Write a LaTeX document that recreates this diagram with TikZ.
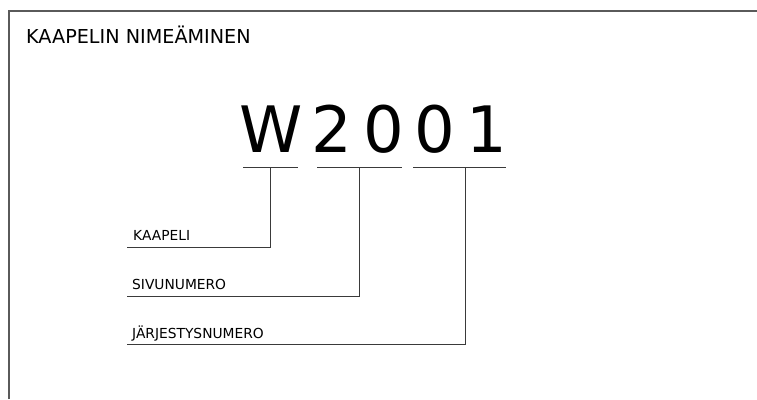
\documentclass[tikz,border=0pt]{standalone}
\usepackage{fontspec}
\setmainfont{DejaVu Sans}
\definecolor{linegray}{HTML}{3A3A3A}
\definecolor{framegray}{HTML}{5A5A5A}
\begin{document}
\begin{tikzpicture}[x=1pt,y=-1pt,
  title/.style={anchor=base west,inner sep=0pt,font=\fontsize{19.2}{23}\selectfont},
  big/.style={anchor=base,inner sep=0pt,font=\fontsize{64}{70}\selectfont},
  lbl/.style={anchor=base west,inner sep=0pt,font=\fontsize{13.8}{16}\selectfont},
  uline/.style={draw=linegray,line width=1pt},
  conn/.style={draw=linegray,line width=1pt},
  frame/.style={draw=framegray,line width=1.5pt}]
\useasboundingbox (0,0) rectangle (757,399);
% frame
\draw[frame] (9,399) -- (9,11) -- (757,11);
% title
\node[title] (ttl) at (26,43) {KAAPELIN NIMEÄMINEN};
% big code characters
\node[big] (w) at (271,152) {W};
\node[big] (d2) at (332,152) {2};
\node[big] (d0a) at (384,152) {0};
\node[big] (d0b) at (435,152) {0};
\node[big] (d1) at (487,152) {1};
% underlines
\coordinate (u1a) at (243,167); \coordinate (u1b) at (298,167);
\coordinate (u2a) at (317,167); \coordinate (u2b) at (402,167);
\coordinate (u3a) at (413,167); \coordinate (u3b) at (506,167);
\draw[uline] (u1a) -- (u1b);
\draw[uline] (u2a) -- (u2b);
\draw[uline] (u3a) -- (u3b);
\coordinate (t1) at (270,167);
\coordinate (t2) at (359,167);
\coordinate (t3) at (465,167);
% labels
\node[lbl] (l1) at (133,240) {KAAPELI};
\node[lbl] (l2) at (132,289.5) {SIVUNUMERO};
\node[lbl] (l3) at (132,338) {JÄRJESTYSNUMERO};
\coordinate (e1) at (127,247);
\coordinate (e2) at (127,296);
\coordinate (e3) at (127,344);
% connectors
\draw[conn] (t1) |- (e1);
\draw[conn] (t2) |- (e2);
\draw[conn] (t3) |- (e3);
\end{tikzpicture}
\end{document}
